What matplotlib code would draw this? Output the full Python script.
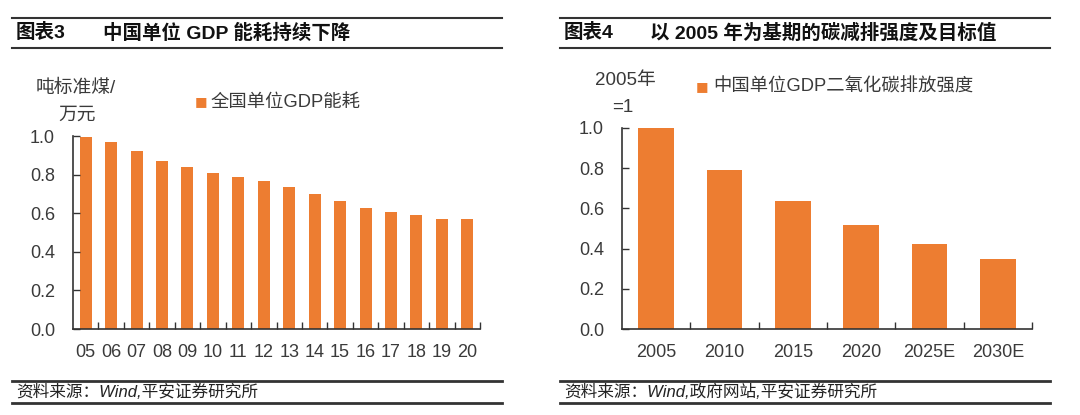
import matplotlib
matplotlib.use('Agg')
import matplotlib.pyplot as plt
from matplotlib.lines import Line2D

plt.rcParams['font.family'] = ['Liberation Sans', 'Noto Sans CJK SC', 'DejaVu Sans']

# left chart: energy use per unit GDP
energy_years = ['05', '06', '07', '08', '09', '10', '11', '12',
                '13', '14', '15', '16', '17', '18', '19', '20']
energy_values = [0.995, 0.969, 0.921, 0.873, 0.840, 0.809, 0.790, 0.766,
                 0.735, 0.702, 0.663, 0.628, 0.604, 0.589, 0.571, 0.571]

# right chart: CO2 intensity, 2005 = 1
carbon_years = ['2005', '2010', '2015', '2020', '2025E', '2030E']
carbon_values = [1.0, 0.79, 0.636, 0.518, 0.425, 0.346]

y_ticks = [0.0, 0.2, 0.4, 0.6, 0.8, 1.0]

ORANGE = '#ED7D31'
DARK = '#333333'
TEXT = '#3a3a3a'
W, H = 1080, 415

fig = plt.figure(figsize=(W / 100, H / 100), dpi=100)


def fx(px):
    return px / W


def fy(py):
    return 1 - py / H


def hline(x0, x1, y, lw):
    fig.add_artist(Line2D([fx(x0), fx(x1)], [fy(y), fy(y)], color=DARK, lw=lw))


def style_axes(ax, labels):
    for s in ('top', 'right'):
        ax.spines[s].set_visible(False)
    for s in ('left', 'bottom'):
        ax.spines[s].set_color(DARK)
        ax.spines[s].set_linewidth(1.2)
    ax.set_ylim(0, 1.0)
    ax.set_yticks(y_ticks)
    ax.set_yticklabels([f'{v:.1f}' for v in y_ticks])
    n = len(labels)
    ax.set_xlim(-0.5, n - 0.5)
    # ticks sit between categories, labels under the bars
    ax.set_xticks([i + 0.5 for i in range(n - 1)] + [n - 0.5])
    ax.set_xticklabels([])
    ax.set_xticks(range(n), minor=True)
    ax.set_xticklabels(labels, minor=True)
    ax.tick_params(axis='x', which='major', direction='in', length=5,
                   width=1.0, color=DARK)
    ax.tick_params(axis='x', which='minor', length=0, pad=11,
                   labelsize=13, labelcolor=TEXT)
    ax.tick_params(axis='y', direction='in', length=5, width=1.0,
                   color=DARK, pad=13, labelsize=13, labelcolor=TEXT)


def legend_item(x_sq, x_txt, y, label):
    fig.text(fx(x_sq), fy(y), '■', fontsize=9.5, color=ORANGE, ha='center',
             va='center', family=['DejaVu Sans'])
    fig.text(fx(x_txt), fy(y), label, fontsize=13.2, va='center', color=TEXT)


# ---- left panel ----
ax1 = fig.add_axes([fx(73), fy(329), fx(480 - 73), (329 - 136) / H])
ax1.bar(range(len(energy_values)), energy_values, width=0.47, color=ORANGE)
style_axes(ax1, energy_years)

hline(12, 502, 18, 1.5)
hline(12, 502, 48, 1.5)
fig.text(fx(16), fy(33), '图表3', fontsize=14, fontweight='bold',
         va='center', color='#111111')
fig.text(fx(103), fy(33), '中国单位 GDP 能耗持续下降', fontsize=14,
         fontweight='bold', va='center', color='#111111')
fig.text(fx(76), fy(88), '吨标准煤/', fontsize=13.5, ha='center',
         va='center', color=TEXT)
fig.text(fx(77), fy(115), '万元', fontsize=13.5, ha='center',
         va='center', color=TEXT)
legend_item(201, 211, 102, '全国单位GDP能耗')

hline(12, 502, 381, 2)
hline(12, 502, 403, 2)
fig.text(fx(16), fy(392), '资料来源：Wind,平安证券研究所', fontsize=12,
         style='italic', va='center', color='#222222')

# ---- right panel ----
ax2 = fig.add_axes([fx(622), fy(329), fx(1032 - 622), (329 - 128) / H])
ax2.bar(range(len(carbon_values)), carbon_values, width=0.52, color=ORANGE)
style_axes(ax2, carbon_years)

hline(560, 1050, 18, 1.5)
hline(560, 1050, 48, 1.5)
fig.text(fx(564), fy(33), '图表4', fontsize=14, fontweight='bold',
         va='center', color='#111111')
fig.text(fx(650), fy(33), '以 2005 年为基期的碳减排强度及目标值',
         fontsize=14, fontweight='bold', va='center', color='#111111')
fig.text(fx(625), fy(81), '2005年', fontsize=13.5, ha='center',
         va='center', color=TEXT)
fig.text(fx(623), fy(107), '=1', fontsize=13.5, ha='center',
         va='center', color=TEXT)
legend_item(702, 713, 87, '中国单位GDP二氧化碳排放强度')

hline(560, 1050, 381, 2)
hline(560, 1050, 403, 2)
fig.text(fx(564), fy(392), '资料来源：Wind,政府网站,平安证券研究所',
         fontsize=12, style='italic', va='center', color='#222222')

fig.savefig('out.png', dpi=100)
